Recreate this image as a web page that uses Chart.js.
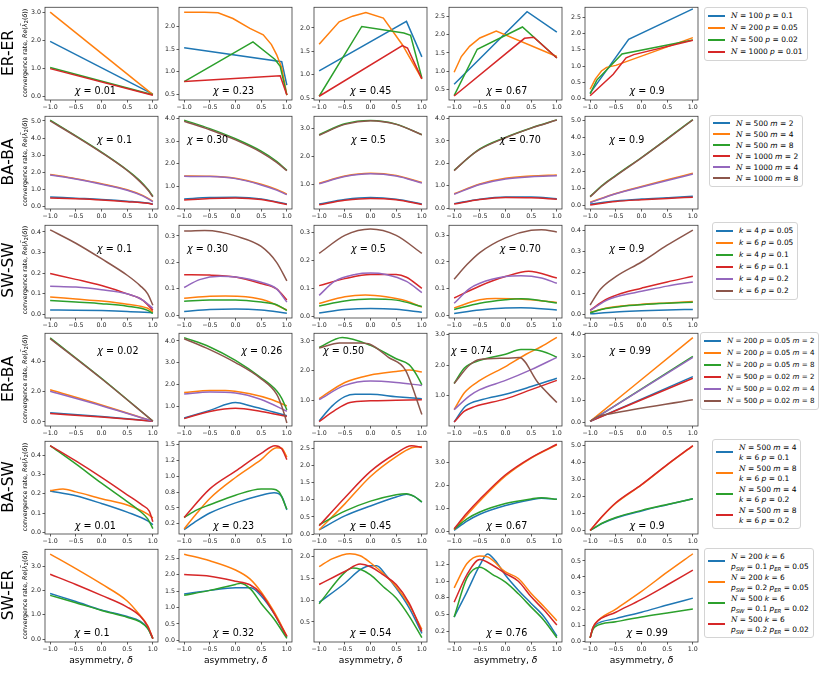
<!DOCTYPE html>
<html>
<head>
<meta charset="utf-8">
<script src="https://cdn.jsdelivr.net/npm/chart.js@4.4.0/dist/chart.umd.min.js"></script>
<style>
body { margin: 0; background: #fff; font-family: "DejaVu Sans", sans-serif; }
#fig { position: relative; width: 822px; height: 674px; overflow: hidden; background: #fff; }
canvas { position: absolute; }
.lab { position: absolute; white-space: nowrap; transform: translate(-50%, -50%); color: #000; }
.rot { transform: translate(-50%, -50%) rotate(-90deg); }
.chi { font-size: 9.6px; }
.row { font-size: 15.5px; }
.ylab { font-size: 6.3px; }
.xlab { font-size: 9.2px; }
.leg { position: absolute; width: max-content; background: #fff; border: 1px solid #d4d4d4; border-radius: 3px; padding: 2px 4px 2px 3px; color: #000; }
.it { display: flex; align-items: flex-start; white-space: nowrap; overflow: visible; }
.hd { width: 17px; height: 2px; margin-right: 6px; flex: none; }
.tx { align-self: center; }
.cn { font-family: "DejaVu Serif", serif; font-style: italic; }
sub { font-size: 5.4px; line-height: 0; vertical-align: -1.5px; }
</style>
</head>
<body>
<div id="fig"></div>
<script>
// tab10
const colors = ['#1f77b4', '#ff7f0e', '#2ca02c', '#d62728', '#9467bd', '#8c564b'];
const rowNames = ['ER-ER', 'BA-BA', 'SW-SW', 'ER-BA', 'BA-SW', 'SW-ER'];
const xTicks = [-1, -0.5, 0, 0.5, 1];

const chiErEr = ['0.01', '0.23', '0.45', '0.67', '0.9'];
const chiBaBa = ['0.1', '0.30', '0.5', '0.70', '0.9'];
const chiSwSw = ['0.1', '0.30', '0.5', '0.70', '0.9'];
const chiErBa = ['0.02', '0.26', '0.50', '0.74', '0.99'];
const chiBaSw = ['0.01', '0.23', '0.45', '0.67', '0.9'];
const chiSwEr = ['0.1', '0.32', '0.54', '0.76', '0.99'];

const N = '<span class="cn">N</span>';
const legErEr = [N + ' = 100 <i>p</i> = 0.1', N + ' = 200 <i>p</i> = 0.05', N + ' = 500 <i>p</i> = 0.02', N + ' = 1000 <i>p</i> = 0.01'];
const legBaBa = [N + ' = 500 <i>m</i> = 2', N + ' = 500 <i>m</i> = 4', N + ' = 500 <i>m</i> = 8', N + ' = 1000 <i>m</i> = 2', N + ' = 1000 <i>m</i> = 4', N + ' = 1000 <i>m</i> = 8'];
const legSwSw = ['<i>k</i> = 4 <i>p</i> = 0.05', '<i>k</i> = 6 <i>p</i> = 0.05', '<i>k</i> = 4 <i>p</i> = 0.1', '<i>k</i> = 6 <i>p</i> = 0.1', '<i>k</i> = 4 <i>p</i> = 0.2', '<i>k</i> = 6 <i>p</i> = 0.2'];
const legErBa = [N + ' = 200 <i>p</i> = 0.05 <i>m</i> = 2', N + ' = 200 <i>p</i> = 0.05 <i>m</i> = 4', N + ' = 200 <i>p</i> = 0.05 <i>m</i> = 8', N + ' = 500 <i>p</i> = 0.02 <i>m</i> = 2', N + ' = 500 <i>p</i> = 0.02 <i>m</i> = 4', N + ' = 500 <i>p</i> = 0.02 <i>m</i> = 8'];
const legBaSw = [N + ' = 500 <i>m</i> = 4<br><i>k</i> = 6 <i>p</i> = 0.1', N + ' = 500 <i>m</i> = 8<br><i>k</i> = 6 <i>p</i> = 0.1', N + ' = 500 <i>m</i> = 4<br><i>k</i> = 6 <i>p</i> = 0.2', N + ' = 500 <i>m</i> = 8<br><i>k</i> = 6 <i>p</i> = 0.2'];
const legSwEr = [N + ' = 200 <i>k</i> = 6<br><i>p<sub>SW</sub></i> = 0.1 <i>p<sub>ER</sub></i> = 0.05', N + ' = 200 <i>k</i> = 6<br><i>p<sub>SW</sub></i> = 0.2 <i>p<sub>ER</sub></i> = 0.05', N + ' = 500 <i>k</i> = 6<br><i>p<sub>SW</sub></i> = 0.1 <i>p<sub>ER</sub></i> = 0.02', N + ' = 500 <i>k</i> = 6<br><i>p<sub>SW</sub></i> = 0.2 <i>p<sub>ER</sub></i> = 0.02'];

// y tick values per panel
const ticksErEr = [[0, 1, 2, 3], [0.5, 1, 1.5, 2], [0.5, 1, 1.5, 2], [0.5, 1, 1.5, 2, 2.5], [0, 0.5, 1, 1.5, 2, 2.5]];
const ticksBaBa = [[0, 1, 2, 3, 4, 5], [0, 1, 2, 3, 4], [1, 2, 3], [0, 1, 2, 3, 4], [0, 1, 2, 3, 4, 5]];
const ticksSwSw = [[0, 0.1, 0.2, 0.3, 0.4], [0, 0.1, 0.2, 0.3], [0, 0.1, 0.2, 0.3], [0, 0.1, 0.2, 0.3], [0, 0.1, 0.2, 0.3, 0.4]];
const ticksErBa = [[0, 2, 4], [1, 2, 3, 4], [1, 2, 3], [1, 2, 3], [0, 1, 2, 3, 4]];
const ticksBaSw = [[0, 0.1, 0.2, 0.3, 0.4], [0.25, 0.5, 0.75, 1, 1.25, 1.5], [0, 0.5, 1, 1.5, 2, 2.5], [0, 1, 2, 3], [0, 1, 2, 3, 4, 5]];
const ticksSwEr = [[0, 1, 2, 3], [0, 0.5, 1, 1.5, 2, 2.5], [0.5, 1, 1.5, 2], [0.25, 0.5, 0.75, 1, 1.25], [0, 0.1, 0.2, 0.3, 0.4, 0.5]];

// y limits per panel
const limErEr = [[-0.14, 3.17], [0.37, 2.43], [0.46, 2.44], [0.21, 2.75], [-0.04, 2.8]];
const limBaBa = [[-0.15, 5.27], [-0.02, 4.1], [0.12, 3.44], [-0.04, 4.1], [-0.19, 5.23]];
const limSwSw = [[-0.017, 0.432], [-0.01, 0.34], [-0.006, 0.326], [-0.01, 0.337], [-0.017, 0.425]];
const limErBa = [[-0.27, 5.85], [0.08, 4.35], [0.13, 3.26], [0.02, 3.03], [-0.18, 4.05]];
const limBaSw = [[-0.008, 0.472], [0.09, 1.55], [0, 2.71], [-0.11, 3.93], [-0.19, 5.27]];
const limSwEr = [[-0.12, 3.7], [-0.05, 2.77], [0.04, 2.17], [0.085, 1.48], [-0.006, 0.573]];

// series points [delta, rate]; order: blue, orange, green, red (, purple, brown)
const dataErEr = [
  [[[-1, 1.95], [1, 0.07]], [[-1, 3.0], [1, 0.05]], [[-1, 1.02], [1, 0.05]], [[-1, 0.98], [1, 0.03]]],
  [[[-1, 1.53], [0.9, 1.22], [1, 0.7]],
   [[-1, 2.32], [-0.6, 2.32], [-0.34, 2.31], [-0.05, 2.18], [0.28, 1.96], [0.54, 1.82], [0.7, 1.6], [0.8, 1.38], [0.9, 1.09], [1, 0.48]],
   [[-1, 0.78], [0.34, 1.66], [0.77, 1.27], [0.87, 1.12], [1, 0.48]],
   [[-1, 0.78], [0.87, 0.91], [1, 0.48]]],
  [[[-1, 1.08], [0.7, 2.14], [1, 1.38]],
   [[-1, 1.65], [-0.61, 2.13], [-0.35, 2.25], [-0.09, 2.33], [0.25, 2.21], [0.62, 1.64], [1, 0.91]],
   [[-1, 0.54], [-0.17, 2.03], [0.65, 1.89], [0.78, 1.84], [1, 0.93]],
   [[-1, 0.54], [0.62, 1.62], [0.72, 1.57], [1, 0.91]]],
  [[[-1, 0.64], [0.42, 2.63], [1, 2.07]],
   [[-1, 0.97], [-0.86, 1.4], [-0.7, 1.68], [-0.5, 1.91], [-0.18, 2.1], [1, 1.4]],
   [[-1, 0.33], [-0.55, 1.6], [0.33, 2.21], [1, 1.36]],
   [[-1, 0.32], [0.37, 1.9], [0.55, 1.93], [1, 1.36]]],
  [[[-1, 0.17], [-0.25, 1.82], [1, 2.75]],
   [[-1, 0.29], [-0.9, 0.6], [-0.78, 0.85], [-0.68, 0.96], [-0.5, 1.02], [1, 1.87]],
   [[-1, 0.15], [-0.87, 0.57], [-0.38, 1.37], [1, 1.8]],
   [[-1, 0.09], [-0.55, 0.75], [-0.3, 1.25], [-0.15, 1.35], [1, 1.79]]]
];

const dataBaBa = [
  [[[-1, 0.55], [-0.5, 0.48], [0, 0.41], [0.5, 0.31], [0.9, 0.2], [1, 0.14]],
   [[-1, 1.87], [-0.5, 1.62], [0, 1.33], [0.5, 0.98], [0.8, 0.65], [1, 0.3]],
   [[-1, 5.05], [-0.5, 4.13], [0, 3.18], [0.5, 2.13], [0.75, 1.5], [0.9, 1.0], [1, 0.6]],
   [[-1, 0.5], [-0.5, 0.45], [0, 0.38], [0.5, 0.28], [0.9, 0.18], [1, 0.12]],
   [[-1, 1.84], [-0.5, 1.6], [0, 1.3], [0.5, 0.95], [0.8, 0.62], [1, 0.27]],
   [[-1, 5.0], [-0.5, 4.1], [0, 3.15], [0.5, 2.1], [0.75, 1.45], [0.9, 0.97], [1, 0.56]]],
  [[[-1, 0.42], [-0.5, 0.49], [0, 0.5], [0.5, 0.43], [1, 0.2]],
   [[-1, 1.45], [-0.5, 1.44], [0, 1.35], [0.5, 1.08], [0.8, 0.85], [1, 0.64]],
   [[-1, 3.93], [-0.5, 3.55], [0, 3.1], [0.5, 2.55], [0.8, 2.1], [1, 1.7]],
   [[-1, 0.38], [-0.5, 0.45], [0, 0.47], [0.5, 0.4], [1, 0.18]],
   [[-1, 1.43], [-0.5, 1.42], [0, 1.33], [0.5, 1.05], [0.8, 0.82], [1, 0.62]],
   [[-1, 3.88], [-0.5, 3.5], [0, 3.05], [0.5, 2.5], [0.8, 2.05], [1, 1.68]]],
  [[[-1, 0.3], [-0.5, 0.46], [0, 0.53], [0.5, 0.47], [1, 0.3]],
   [[-1, 1.04], [-0.5, 1.3], [0, 1.4], [0.5, 1.32], [1, 1.07]],
   [[-1, 2.78], [-0.5, 3.17], [0, 3.29], [0.5, 3.16], [1, 2.78]],
   [[-1, 0.27], [-0.5, 0.43], [0, 0.5], [0.5, 0.45], [1, 0.28]],
   [[-1, 1.02], [-0.5, 1.28], [0, 1.38], [0.5, 1.3], [1, 1.05]],
   [[-1, 2.76], [-0.5, 3.15], [0, 3.28], [0.5, 3.15], [1, 2.78]]],
  [[[-1, 0.2], [-0.5, 0.4], [0, 0.5], [0.5, 0.5], [1, 0.42]],
   [[-1, 0.64], [-0.5, 1.08], [0, 1.33], [0.5, 1.43], [1, 1.48]],
   [[-1, 1.69], [-0.5, 2.64], [0, 3.16], [0.5, 3.58], [1, 3.94]],
   [[-1, 0.18], [-0.5, 0.38], [0, 0.47], [0.5, 0.46], [1, 0.4]],
   [[-1, 0.62], [-0.5, 1.05], [0, 1.3], [0.5, 1.4], [1, 1.44]],
   [[-1, 1.67], [-0.75, 2.2], [-0.5, 2.62], [0, 3.14], [0.5, 3.57], [1, 3.93]]],
  [[[-1, 0.1], [-0.5, 0.28], [0, 0.39], [0.5, 0.47], [1, 0.55]],
   [[-1, 0.2], [-0.5, 0.72], [0, 1.13], [0.5, 1.52], [1, 1.9]],
   [[-1, 0.55], [-0.75, 1.22], [-0.5, 1.77], [0, 2.82], [0.5, 3.92], [1, 5.04]],
   [[-1, 0.05], [-0.5, 0.25], [0, 0.35], [0.5, 0.43], [1, 0.5]],
   [[-1, 0.18], [-0.5, 0.7], [0, 1.1], [0.5, 1.48], [1, 1.85]],
   [[-1, 0.52], [-0.75, 1.2], [-0.5, 1.75], [0, 2.8], [0.5, 3.9], [1, 5.02]]]
];

const dataSwSw = [
  [[[-1, 0.022], [-0.5, 0.021], [0, 0.019], [0.5, 0.015], [1, 0.008]],
   [[-1, 0.085], [-0.5, 0.075], [0, 0.065], [0.5, 0.05], [0.9, 0.03], [1, 0.012]],
   [[-1, 0.068], [-0.5, 0.06], [0, 0.052], [0.5, 0.04], [0.9, 0.02], [1, 0.005]],
   [[-1, 0.198], [-0.5, 0.17], [0, 0.14], [0.5, 0.1], [0.8, 0.07], [1, 0.02]],
   [[-1, 0.137], [-0.5, 0.133], [0, 0.12], [0.5, 0.1], [0.8, 0.07], [1, 0.03]],
   [[-1, 0.41], [-0.5, 0.345], [0, 0.27], [0.5, 0.19], [0.75, 0.14], [0.9, 0.1], [1, 0.045]]],
  [[[-1, 0.015], [-0.5, 0.022], [0, 0.024], [0.5, 0.02], [1, 0.008]],
   [[-1, 0.065], [-0.5, 0.072], [-0.2, 0.073], [0.2, 0.07], [0.6, 0.055], [1, 0.02]],
   [[-1, 0.053], [-0.5, 0.058], [0, 0.058], [0.5, 0.05], [0.8, 0.04], [1, 0.018]],
   [[-1, 0.153], [-0.5, 0.152], [0, 0.145], [0.5, 0.12], [0.8, 0.1], [1, 0.058]],
   [[-1, 0.105], [-0.7, 0.135], [-0.3, 0.148], [0, 0.145], [0.5, 0.125], [0.8, 0.1], [1, 0.05]],
   [[-1, 0.318], [-0.6, 0.32], [-0.3, 0.315], [0, 0.3], [0.5, 0.26], [0.8, 0.2], [1, 0.13]]],
  [[[-1, 0.012], [-0.5, 0.024], [0, 0.028], [0.5, 0.025], [1, 0.015]],
   [[-1, 0.046], [-0.5, 0.07], [-0.1, 0.076], [0.3, 0.07], [0.7, 0.055], [1, 0.033]],
   [[-1, 0.037], [-0.5, 0.055], [0, 0.062], [0.5, 0.058], [1, 0.035]],
   [[-1, 0.11], [-0.5, 0.135], [0, 0.15], [0.5, 0.15], [0.7, 0.14], [1, 0.1]],
   [[-1, 0.075], [-0.7, 0.125], [-0.3, 0.15], [0, 0.155], [0.3, 0.15], [0.7, 0.125], [1, 0.085]],
   [[-1, 0.225], [-0.5, 0.29], [0, 0.313], [0.5, 0.29], [1, 0.225]]],
  [[[-1, 0.007], [-0.5, 0.02], [0, 0.027], [0.3, 0.028], [1, 0.02]],
   [[-1, 0.028], [-0.5, 0.058], [-0.2, 0.063], [0.2, 0.062], [0.5, 0.058], [1, 0.048]],
   [[-1, 0.022], [-0.5, 0.045], [0, 0.058], [0.3, 0.062], [0.7, 0.055], [1, 0.046]],
   [[-1, 0.065], [-0.5, 0.11], [0, 0.145], [0.45, 0.165], [1, 0.14]],
   [[-1, 0.045], [-0.7, 0.1], [-0.5, 0.12], [0, 0.145], [0.3, 0.148], [0.7, 0.14], [1, 0.12]],
   [[-1, 0.135], [-0.75, 0.19], [-0.5, 0.235], [0, 0.29], [0.5, 0.318], [0.7, 0.32], [1, 0.312]]],
  [[[-1, 0.003], [-0.5, 0.012], [0, 0.017], [0.5, 0.021], [1, 0.024]],
   [[-1, 0.01], [-0.7, 0.03], [-0.4, 0.04], [0, 0.048], [0.5, 0.055], [1, 0.062]],
   [[-1, 0.008], [-0.7, 0.028], [-0.4, 0.038], [0, 0.046], [0.5, 0.053], [1, 0.058]],
   [[-1, 0.02], [-0.7, 0.07], [-0.4, 0.1], [0, 0.125], [0.5, 0.155], [1, 0.182]],
   [[-1, 0.018], [-0.7, 0.065], [-0.4, 0.09], [0, 0.11], [0.5, 0.135], [1, 0.155]],
   [[-1, 0.045], [-0.8, 0.12], [-0.5, 0.18], [0, 0.25], [0.5, 0.33], [1, 0.402]]]
];

const dataErBa = [
  [[[-1, 0.6], [0, 0.35], [1, 0.05]],
   [[-1, 2.12], [0, 1.12], [1, 0.05]],
   [[-1, 5.55], [0, 2.88], [1, 0.05]],
   [[-1, 0.55], [0, 0.32], [1, 0.05]],
   [[-1, 2.02], [0, 1.07], [1, 0.05]],
   [[-1, 5.5], [0, 2.85], [1, 0.05]]],
  [[[-1, 0.45], [-0.5, 0.8], [0, 1.16], [0.3, 1.0], [0.7, 0.75], [1, 0.55]],
   [[-1, 1.62], [-0.5, 1.72], [-0.2, 1.72], [0.3, 1.55], [0.7, 1.3], [1, 1.0]],
   [[-1, 4.15], [-0.5, 3.72], [0, 3.1], [0.5, 2.3], [0.8, 1.7], [0.9, 1.35], [1, 0.82]],
   [[-1, 0.42], [-0.5, 0.75], [0, 0.9], [0.5, 0.75], [1, 0.52]],
   [[-1, 1.55], [-0.5, 1.65], [0, 1.6], [0.5, 1.3], [1, 0.76]],
   [[-1, 4.1], [-0.5, 3.6], [0, 3.0], [0.5, 2.25], [0.8, 1.55], [0.9, 1.0], [1, 0.22]]],
  [[[-1, 0.3], [-0.75, 0.8], [-0.5, 1.12], [-0.3, 1.2], [0, 1.2], [0.5, 1.12], [1, 1.05]],
   [[-1, 1.05], [-0.5, 1.6], [0, 1.85], [0.5, 1.97], [0.75, 2.02], [1, 1.95]],
   [[-1, 2.78], [-0.55, 3.12], [0, 2.85], [0.5, 2.4], [0.75, 2.2], [0.9, 1.85], [1, 1.52]],
   [[-1, 0.28], [-0.7, 0.65], [-0.4, 0.92], [0, 0.98], [0.5, 1.0], [1, 1.02]],
   [[-1, 1.02], [-0.5, 1.5], [0, 1.65], [0.5, 1.6], [1, 1.5]],
   [[-1, 2.76], [-0.6, 2.93], [-0.2, 2.93], [0, 2.88], [0.35, 2.45], [0.68, 2.02], [1, 0.52]]],
  [[[-1, 0.15], [-0.78, 0.66], [-0.45, 0.88], [0, 1.05], [0.5, 1.3], [1, 1.57]],
   [[-1, 0.55], [-0.8, 1.1], [-0.5, 1.5], [0, 1.95], [0.4, 2.35], [0.7, 2.6], [1, 2.9]],
   [[-1, 1.4], [-0.8, 1.9], [-0.5, 2.15], [0, 2.35], [0.3, 2.5], [0.5, 2.5], [0.8, 2.4], [1, 2.25]],
   [[-1, 0.15], [-0.8, 0.5], [-0.6, 0.65], [0, 0.9], [0.5, 1.2], [1, 1.5]],
   [[-1, 0.55], [-0.7, 1.0], [-0.5, 1.2], [0, 1.5], [0.5, 1.85], [1, 2.25]],
   [[-1, 1.4], [-0.7, 2.0], [-0.5, 2.18], [0, 2.22], [0.27, 2.24], [0.63, 1.43], [1, 0.78]]],
  [[[-1, 0.03], [1, 2.07]],
   [[-1, 0.03], [1, 3.85]],
   [[-1, 0.03], [1, 3.0]],
   [[-1, 0.03], [1, 2.0]],
   [[-1, 0.03], [1, 2.95]],
   [[-1, 0.03], [-0.85, 0.25], [-0.6, 0.38], [1, 1.02]]]
];

const dataBaSw = [
  [[[-1, 0.215], [-0.5, 0.19], [0, 0.15], [0.5, 0.105], [0.9, 0.06], [1, 0.04]],
   [[-1, 0.217], [-0.75, 0.225], [-0.5, 0.21], [0, 0.175], [0.5, 0.142], [0.9, 0.095], [1, 0.075]],
   [[-1, 0.45], [-0.5, 0.355], [0, 0.255], [0.5, 0.16], [0.75, 0.11], [0.9, 0.07], [1, 0.02]],
   [[-1, 0.45], [-0.5, 0.37], [0, 0.285], [0.5, 0.195], [0.8, 0.14], [0.93, 0.11], [1, 0.055]]],
  [[[-1, 0.16], [-0.75, 0.3], [-0.5, 0.42], [0, 0.58], [0.5, 0.7], [0.75, 0.74], [0.9, 0.68], [1, 0.47]],
   [[-1, 0.17], [-0.75, 0.42], [-0.5, 0.65], [0, 0.98], [0.5, 1.26], [0.8, 1.45], [0.9, 1.44], [1, 1.3]],
   [[-1, 0.35], [-0.75, 0.47], [-0.5, 0.55], [0, 0.7], [0.5, 0.8], [0.7, 0.8], [0.85, 0.75], [1, 0.48]],
   [[-1, 0.35], [-0.5, 0.8], [0, 1.08], [0.5, 1.36], [0.77, 1.48], [0.9, 1.43], [1, 1.26]]],
  [[[-1, 0.12], [-0.5, 0.53], [0, 0.82], [0.5, 1.08], [0.7, 1.16], [0.85, 1.1], [1, 0.93]],
   [[-1, 0.12], [-0.5, 0.88], [0, 1.68], [0.5, 2.26], [0.8, 2.52], [1, 2.56]],
   [[-1, 0.27], [-0.5, 0.67], [0, 0.96], [0.5, 1.15], [0.7, 1.18], [0.85, 1.1], [1, 0.94]],
   [[-1, 0.24], [-0.5, 1.06], [0, 1.83], [0.5, 2.36], [0.8, 2.58], [1, 2.53]]],
  [[[-1, 0.05], [-0.75, 0.45], [-0.5, 0.75], [0, 1.13], [0.5, 1.38], [0.7, 1.45], [1, 1.4]],
   [[-1, 0.08], [-0.75, 0.72], [-0.5, 1.33], [0, 2.42], [0.5, 3.2], [1, 3.78]],
   [[-1, 0.1], [-0.75, 0.55], [-0.5, 0.85], [0, 1.22], [0.5, 1.42], [0.7, 1.47], [1, 1.4]],
   [[-1, 0.12], [-0.75, 0.8], [-0.5, 1.4], [0, 2.47], [0.5, 3.22], [1, 3.8]]],
  [[[-1, 0.02], [-0.75, 0.45], [-0.5, 0.75], [0, 1.17], [0.5, 1.53], [1, 1.88]],
   [[-1, 0.02], [-0.75, 0.88], [-0.5, 1.62], [0, 2.7], [0.5, 3.88], [1, 5.0]],
   [[-1, 0.02], [-0.75, 0.47], [-0.5, 0.78], [0, 1.2], [0.5, 1.55], [1, 1.88]],
   [[-1, 0.02], [-0.75, 0.9], [-0.5, 1.65], [0, 2.72], [0.5, 3.9], [1, 5.02]]]
];

const dataSwEr = [
  [[[-1, 1.88], [-0.5, 1.55], [0, 1.2], [0.5, 0.93], [0.75, 0.74], [0.9, 0.45], [1, 0.02]],
   [[-1, 3.5], [-0.5, 2.9], [0, 2.27], [0.5, 1.57], [0.75, 0.98], [0.9, 0.55], [1, 0.02]],
   [[-1, 1.8], [-0.5, 1.5], [0, 1.18], [0.5, 0.9], [0.75, 0.71], [0.9, 0.43], [1, 0.02]],
   [[-1, 2.67], [-0.5, 2.25], [0, 1.8], [0.5, 1.32], [0.75, 0.95], [0.9, 0.52], [1, 0.02]]],
  [[[-1, 1.41], [-0.5, 1.52], [0, 1.6], [0.3, 1.6], [0.5, 1.35], [0.75, 0.82], [1, 0.1]],
   [[-1, 2.62], [-0.5, 2.42], [0, 2.14], [0.28, 1.87], [0.5, 1.47], [0.75, 0.87], [1, 0.13]],
   [[-1, 1.37], [-0.5, 1.52], [0, 1.7], [0.1, 1.74], [0.3, 1.55], [0.5, 1.12], [0.75, 0.65], [1, 0.06]],
   [[-1, 2.0], [-0.5, 1.95], [0, 1.8], [0.28, 1.69], [0.5, 1.42], [0.75, 0.82], [1, 0.12]]],
  [[[-1, 0.95], [-0.5, 1.39], [-0.2, 1.7], [0, 1.79], [0.12, 1.79], [0.3, 1.58], [0.5, 1.28], [0.75, 0.83], [1, 0.24]],
   [[-1, 1.77], [-0.75, 1.95], [-0.4, 2.07], [-0.2, 2.02], [0, 1.86], [0.25, 1.61], [0.5, 1.31], [0.75, 0.9], [1, 0.33]],
   [[-1, 0.92], [-0.5, 1.64], [-0.35, 1.74], [-0.2, 1.71], [0, 1.58], [0.25, 1.31], [0.5, 1.05], [0.75, 0.64], [1, 0.14]],
   [[-1, 1.36], [-0.5, 1.66], [-0.2, 1.83], [0, 1.77], [0.25, 1.58], [0.5, 1.36], [0.75, 0.94], [1, 0.28]]],
  [[[-1, 0.46], [-0.75, 0.84], [-0.5, 1.24], [-0.35, 1.41], [-0.2, 1.31], [0, 1.09], [0.25, 0.865], [0.5, 0.665], [0.75, 0.465], [1, 0.175]],
   [[-1, 0.9], [-0.75, 1.265], [-0.5, 1.38], [-0.35, 1.365], [0, 1.14], [0.25, 1.04], [0.5, 0.815], [0.75, 0.615], [1, 0.405]],
   [[-1, 0.46], [-0.75, 1.05], [-0.5, 1.21], [-0.25, 1.1], [0, 0.985], [0.25, 0.81], [0.5, 0.61], [0.75, 0.41], [1, 0.15]],
   [[-1, 0.685], [-0.75, 1.1], [-0.5, 1.325], [-0.25, 1.24], [0, 1.115], [0.25, 1.0], [0.5, 0.765], [0.75, 0.565], [1, 0.34]]],
  [[[-1, 0.02], [-0.95, 0.08], [-0.9, 0.1], [-0.5, 0.14], [0, 0.18], [0.5, 0.225], [1, 0.268]],
   [[-1, 0.02], [-0.95, 0.08], [-0.9, 0.11], [-0.5, 0.2], [0, 0.31], [0.5, 0.43], [1, 0.545]],
   [[-1, 0.02], [-0.95, 0.07], [-0.9, 0.09], [-0.5, 0.12], [0, 0.15], [0.5, 0.175], [1, 0.2]],
   [[-1, 0.02], [-0.95, 0.08], [-0.9, 0.11], [-0.5, 0.18], [0, 0.26], [0.5, 0.35], [1, 0.443]]]
];

// ---- layout ----
const colLeft = [44.5, 179.3, 314.2, 449.1, 585];
const rowTop = [5, 114, 222.5, 331, 439, 547];
const FW = 113, FH = 95;
const AX_L = 26, AX_B = 14, PAD_T = 3, PAD_R = 5;
const chiPos = [
  [[0.45, 0.89], [0.48, 0.89], [0.5, 0.89], [0.51, 0.89], [0.55, 0.89]],
  [[0.62, 0.26], [0.25, 0.26], [0.48, 0.26], [0.63, 0.26], [0.37, 0.26]],
  [[0.62, 0.27], [0.25, 0.27], [0.48, 0.27], [0.63, 0.27], [0.37, 0.27]],
  [[0.65, 0.2], [0.73, 0.2], [0.26, 0.2], [0.2, 0.2], [0.4, 0.2]],
  [[0.45, 0.9], [0.48, 0.9], [0.5, 0.9], [0.51, 0.9], [0.55, 0.9]],
  [[0.42, 0.89], [0.48, 0.89], [0.5, 0.89], [0.51, 0.89], [0.55, 0.89]]
];
// [left, top, item height, line height, font size]
const legPos = [
  [704, 7, 12, 12, 7.5], [709, 115, 11, 11, 7.5], [712, 222, 12, 12, 7.4],
  [700, 332, 12, 12, 7.1], [712, 439, 21, 10, 7.5], [704, 548, 21, 10, 7.4]
];

const rows = [
  { chi: chiErEr, leg: legErEr, ticks: ticksErEr, lim: limErEr, data: dataErEr, smooth: false },
  { chi: chiBaBa, leg: legBaBa, ticks: ticksBaBa, lim: limBaBa, data: dataBaBa, smooth: true },
  { chi: chiSwSw, leg: legSwSw, ticks: ticksSwSw, lim: limSwSw, data: dataSwSw, smooth: true },
  { chi: chiErBa, leg: legErBa, ticks: ticksErBa, lim: limErBa, data: dataErBa, smooth: true },
  { chi: chiBaSw, leg: legBaSw, ticks: ticksBaSw, lim: limBaSw, data: dataBaSw, smooth: true },
  { chi: chiSwEr, leg: legSwEr, ticks: ticksSwEr, lim: limSwEr, data: dataSwEr, smooth: true }
];

const fig = document.getElementById('fig');

// matplotlib-like "%.1f" (round half to even)
function fmt(v) {
  const t = Math.round(v * 1e6) / 1e5;
  const f = Math.floor(t), d = Math.round((t - f) * 1000) / 1000;
  let r = d > 0.5 ? f + 1 : d < 0.5 ? f : (f % 2 === 0 ? f : f + 1);
  return (r / 10).toFixed(1).replace('-', '\u2212');
}

const framePlugin = {
  id: 'frame',
  afterDraw(chart) {
    const a = chart.chartArea, ctx = chart.ctx;
    ctx.save();
    ctx.strokeStyle = '#3a3a3a';
    ctx.lineWidth = 0.8;
    ctx.strokeRect(a.left, a.top, a.right - a.left, a.bottom - a.top);
    ctx.restore();
  }
};

function addLabel(html, x, y, cls) {
  const d = document.createElement('div');
  d.className = 'lab ' + cls;
  d.innerHTML = html;
  d.style.left = x + 'px';
  d.style.top = y + 'px';
  fig.appendChild(d);
}

function axisOpts(min, max, vals, fit) {
  return {
    type: 'linear', min: min, max: max,
    afterBuildTicks: (ax) => { ax.ticks = vals.map(v => ({ value: v })); },
    afterFit: fit,
    border: { display: false },
    grid: { display: true, drawOnChartArea: false, drawTicks: true, tickLength: 2.5, color: '#333', lineWidth: 0.8 },
    ticks: {
      autoSkip: false, maxRotation: 0, minRotation: 0, padding: 1.5,
      color: '#222', font: { family: 'DejaVu Sans', size: 6.3 },
      callback: (v) => fmt(v)
    }
  };
}

function makePanel(r, c) {
  const row = rows[r];
  const cv = document.createElement('canvas');
  const W = FW + AX_L + PAD_R, H = FH + PAD_T + AX_B;
  cv.width = W; cv.height = H;
  cv.style.width = W + 'px'; cv.style.height = H + 'px';
  cv.style.left = (colLeft[c] - AX_L) + 'px';
  cv.style.top = (rowTop[r] - PAD_T) + 'px';
  fig.appendChild(cv);
  const series = row.data[c];
  new Chart(cv, {
    type: 'line',
    data: {
      datasets: series.map((pts, i) => ({
        data: pts.map(p => ({ x: p[0], y: p[1] })),
        borderColor: colors[i],
        borderWidth: 1.5,
        pointRadius: 0,
        fill: false,
        order: -i,
        tension: row.smooth ? 0.4 : 0,
        cubicInterpolationMode: row.smooth ? 'monotone' : 'default'
      }))
    },
    options: {
      responsive: false,
      animation: false,
      events: [],
      layout: { padding: { top: PAD_T, right: PAD_R, left: 0, bottom: 0 } },
      plugins: { legend: { display: false }, tooltip: { enabled: false } },
      scales: {
        x: axisOpts(-1.1, 1.1, xTicks, (s) => { s.height = AX_B; }),
        y: axisOpts(row.lim[c][0], row.lim[c][1], row.ticks[c], (s) => { s.width = AX_L; })
      }
    },
    plugins: [framePlugin]
  });
  const p = chiPos[r][c];
  addLabel('<i>\u03c7</i> = ' + row.chi[c], colLeft[c] + p[0] * FW, rowTop[r] + p[1] * FH, 'chi');
}

function makeLegend(r) {
  const row = rows[r], lp = legPos[r];
  const box = document.createElement('div');
  box.className = 'leg';
  box.style.left = lp[0] + 'px';
  box.style.top = lp[1] + 'px';
  box.style.fontSize = lp[4] + 'px';
  row.leg.forEach((txt, i) => {
    const it = document.createElement('div');
    it.className = 'it';
    it.style.height = lp[2] + 'px';
    it.style.lineHeight = lp[3] + 'px';
    const hd = document.createElement('span');
    hd.className = 'hd';
    hd.style.background = colors[i];
    hd.style.marginTop = Math.floor((lp[2] - 2) / 2) + 'px';
    const tx = document.createElement('span');
    tx.className = 'tx';
    tx.innerHTML = txt;
    it.appendChild(hd); it.appendChild(tx);
    box.appendChild(it);
  });
  fig.appendChild(box);
}

for (let r = 0; r < rows.length; r++) {
  for (let c = 0; c < 5; c++) makePanel(r, c);
  makeLegend(r);
  addLabel(rowNames[r], 8, rowTop[r] + FH / 2, 'row rot');
  addLabel('convergence rate, <i>Re</i>(<i>\u03bb\u0303</i><sub>2</sub>(<i>\u03b4</i>))', 23.5, rowTop[r] + FH / 2, 'ylab rot');
}
for (let c = 0; c < 5; c++) {
  addLabel('asymmetry, <i>\u03b4</i>', colLeft[c] + FW / 2, 659, 'xlab');
}
</script>
</body>
</html>
